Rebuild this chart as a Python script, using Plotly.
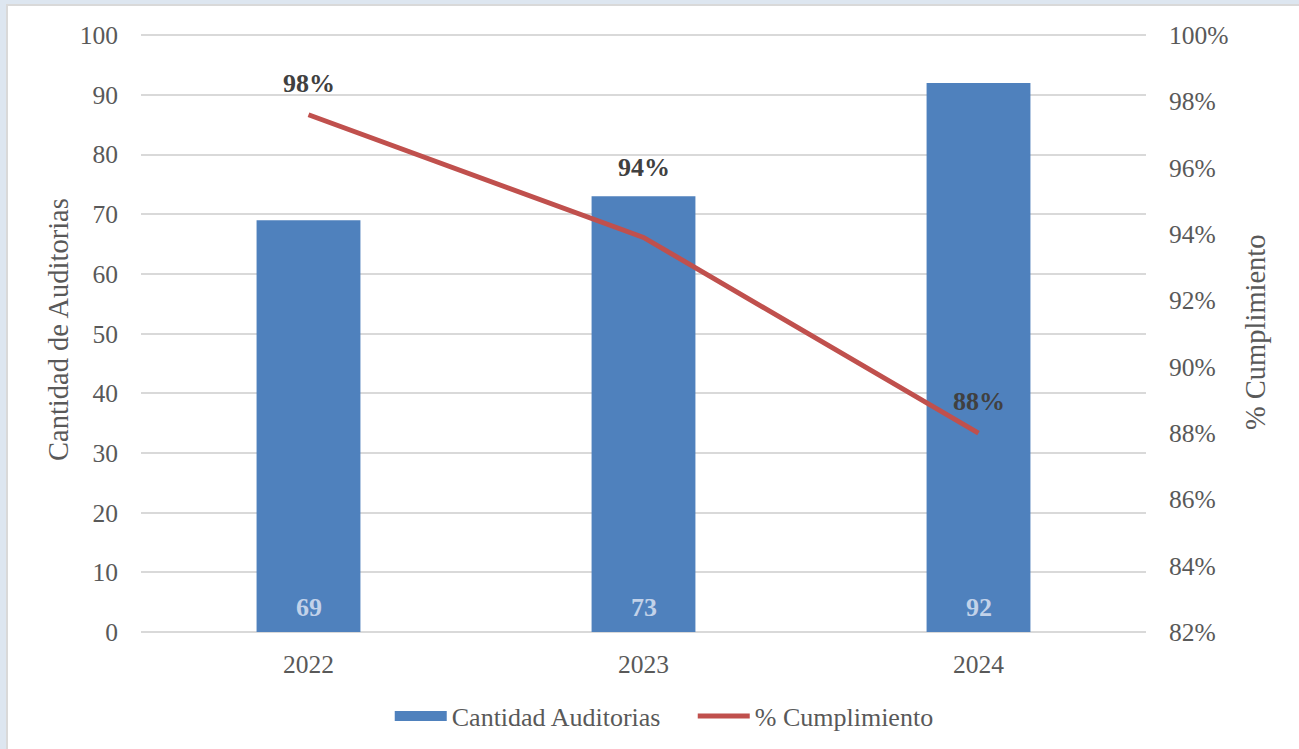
import plotly.graph_objects as go

years = ["2022", "2023", "2024"]
auditorias = [69, 73, 92]
cumplimiento = [0.976, 0.939, 0.880]
cumplimiento_labels = ["98%", "94%", "88%"]

left_ticks = [0, 10, 20, 30, 40, 50, 60, 70, 80, 90, 100]
right_ticks = [0.82, 0.84, 0.86, 0.88, 0.90, 0.92, 0.94, 0.96, 0.98, 1.00]

# style: vertical offsets (px) of the labels
label_shift = [31, 70, 32]
bar_label_shift = 25

FONT = "Liberation Serif"
TXT = "#595959"
BLUE = "#4f81bd"
RED = "#c0504d"
TICK = 25.5

fig = go.Figure()
fig.add_trace(go.Bar(
    x=years, y=auditorias, name="Cantidad Auditorias",
    marker=dict(color=BLUE, line=dict(width=0)),
    yaxis="y", showlegend=False,
))
# legend entry for the bars drawn as a wide swatch
fig.add_trace(go.Scatter(
    x=[None], y=[None], name="Cantidad Auditorias", mode="lines",
    line=dict(color=BLUE, width=12), yaxis="y",
))
fig.add_trace(go.Scatter(
    x=years, y=cumplimiento, name="% Cumplimiento", mode="lines",
    line=dict(color=RED, width=5), yaxis="y2",
))

# category axis: annotations use the category index
for i, v in enumerate(auditorias):
    fig.add_annotation(x=i, y=0, xref="x", yref="y", text="<b>%d</b>" % v,
                       showarrow=False, yshift=bar_label_shift, yanchor="middle",
                       font=dict(family=FONT, size=26, color="#c2d2e9"))
for i, (y, t, s) in enumerate(zip(cumplimiento, cumplimiento_labels, label_shift)):
    fig.add_annotation(x=i, y=y, xref="x", yref="y2", text="<b>%s</b>" % t,
                       showarrow=False, yshift=s,
                       font=dict(family=FONT, size=26, color="#404040"))

W, H = 1299, 749
L, R, T, B = 141, 153, 34, 117
pw, ph = W - L - R, H - T - B

def px_x(x):
    return (x - L) / pw

def px_y(y):
    return (H - B - y) / ph

# frame
fig.add_shape(type="rect", xref="paper", yref="paper",
              x0=px_x(7), x1=px_x(W + 20), y0=px_y(H + 20), y1=px_y(5),
              fillcolor="white", line=dict(color="#d9d9d9", width=2), layer="below")

fig.add_annotation(text="Cantidad de Auditorias", xref="paper", yref="paper",
                   x=px_x(58), y=px_y(330), textangle=-90, showarrow=False,
                   xanchor="center", yanchor="middle",
                   font=dict(family=FONT, size=28.5, color=TXT))
fig.add_annotation(text="% Cumplimiento", xref="paper", yref="paper",
                   x=px_x(1255), y=px_y(332), textangle=-90, showarrow=False,
                   xanchor="center", yanchor="middle",
                   font=dict(family=FONT, size=28.5, color=TXT))

fig.update_layout(
    width=W, height=H,
    margin=dict(l=L, r=R, t=T, b=B, autoexpand=False),
    paper_bgcolor="#dde6f0", plot_bgcolor="rgba(0,0,0,0)",
    bargap=0.69,
    font=dict(family=FONT, size=TICK, color=TXT),
    xaxis=dict(type="category", range=[-0.5, 2.5], showgrid=False,
               showline=False, ticks="", ticklabelstandoff=14,
               tickfont=dict(family=FONT, size=TICK, color=TXT)),
    yaxis=dict(range=[0, 100.2], tickvals=left_ticks, showgrid=True,
               gridcolor="#d9d9d9", gridwidth=2, zeroline=True,
               zerolinecolor="#d9d9d9", zerolinewidth=2, showline=False,
               ticks="", ticklabelstandoff=22,
               tickfont=dict(family=FONT, size=TICK, color=TXT)),
    yaxis2=dict(range=[0.82, 1.00036], tickvals=right_ticks, tickformat=".0%",
                overlaying="y", side="right", showgrid=False, zeroline=False,
                showline=False, ticks="", ticklabelstandoff=22,
                tickfont=dict(family=FONT, size=TICK, color=TXT)),
    legend=dict(orientation="h", x=0.549, xanchor="center", y=px_y(716),
                yanchor="middle", font=dict(family=FONT, size=26, color=TXT),
                bgcolor="rgba(0,0,0,0)", entrywidth=236, itemwidth=52),
    showlegend=True,
)

fig.write_html("out.html", config={"displayModeBar": False},
               post_script="document.body.style.margin='0';")
